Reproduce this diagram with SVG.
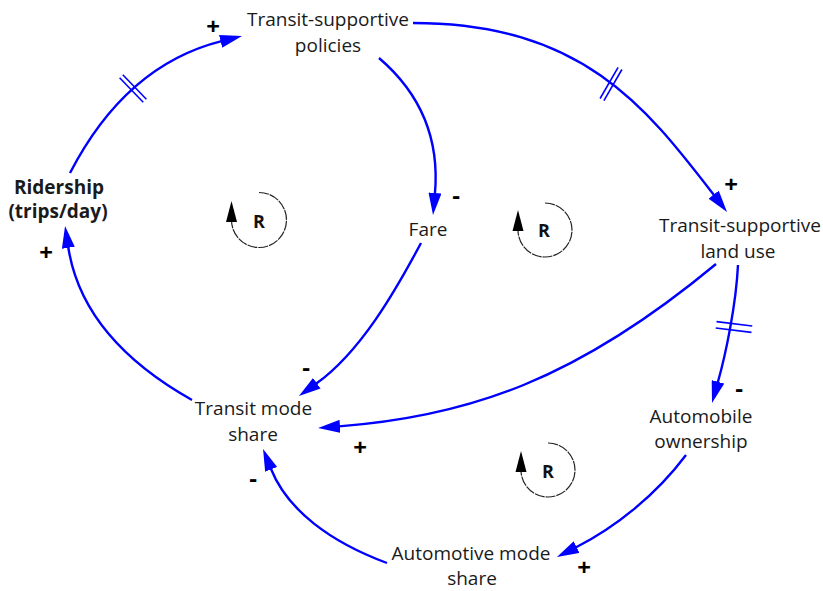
<svg xmlns="http://www.w3.org/2000/svg" width="823" height="591" viewBox="0 0 823 591">
  <style>
    .lbl { font-family: "Open Sans", "Noto Sans", "Liberation Sans", sans-serif; font-size: 19px; fill: #1a1a1a; text-anchor: middle; }
    .bold { font-weight: bold; }
    .sign { font-family: "Open Sans", "Liberation Sans", sans-serif; font-size: 24px; font-weight: bold; fill: #000; text-anchor: middle; }
    .link { fill: none; stroke: #0000ff; stroke-width: 2.4; marker-end: url(#head); }
    .delay line { stroke: #0000ff; stroke-width: 1.6; }
    .loop-arc { fill: none; stroke: #222; stroke-width: 1.2; stroke-dasharray: 10 1; }
    .loop-head { fill: #000; }
    .loop-r { font-family: "Open Sans", "Liberation Sans", sans-serif; font-size: 18px; font-weight: bold; fill: #111; text-anchor: middle; }
  </style>
  <defs>
    <marker id="head" markerUnits="userSpaceOnUse" viewBox="0 0 22 13" markerWidth="22" markerHeight="13" refX="1" refY="6.5" orient="auto">
      <path d="M0,0 L22,6.5 L0,13 Z" fill="#0000ff"/>
    </marker>
  </defs>

  <rect width="823" height="591" fill="#fff"/>

  <!-- causal links -->
  <g id="connectors">
    <path class="link" d="M70,173 C104.5,106.3 153.7,58.1 221.6,41.1"/>
    <path class="link" d="M413,23 C583,23 647.1,108.5 714.2,195.4"/>
    <path class="link" d="M379,58 C417,90.5 440.3,134 434.9,194"/>
    <path class="link" d="M421,243 C395.2,291.4 360.6,351.9 316,383.8"/>
    <path class="link" d="M716,264 C577.4,379.2 468.6,416.7 339,426.4"/>
    <path class="link" d="M738,265 C736,305 725.8,354 717.7,382.8"/>
    <path class="link" d="M686,455 C656,495 615.7,527.2 575.7,547.5"/>
    <path class="link" d="M387,563 C330.6,542 287.4,510.4 270.8,468.5"/>
    <path class="link" d="M192,400 C131.1,365.7 78.7,316.1 68.2,246.8"/>

    <!-- delay marks -->
    <g class="delay" transform="translate(133,88.5) rotate(-44)">
      <line x1="-2.2" y1="-17" x2="-2.2" y2="17"/>
      <line x1="2.2" y1="-17" x2="2.2" y2="17"/>
    </g>
    <g class="delay" transform="translate(611,84) rotate(30)">
      <line x1="-2.2" y1="-18" x2="-2.2" y2="18"/>
      <line x1="2.2" y1="-18" x2="2.2" y2="18"/>
    </g>
    <g class="delay" transform="translate(734,327) rotate(97)">
      <line x1="-3.2" y1="-18" x2="-3.2" y2="18"/>
      <line x1="3.2" y1="-18" x2="3.2" y2="18"/>
    </g>

    <!-- polarities -->
    <text class="sign" x="213" y="34.5">+</text>
    <text class="sign" x="46" y="260.5">+</text>
    <text class="sign" x="456" y="203.5">-</text>
    <text class="sign" x="731" y="192.5">+</text>
    <text class="sign" x="306" y="375.5">-</text>
    <text class="sign" x="360" y="455.5">+</text>
    <text class="sign" x="253" y="486.5">-</text>
    <text class="sign" x="739" y="396.5">-</text>
    <text class="sign" x="584" y="575.5">+</text>
  </g>

  <!-- variables -->
  <g id="policies">
    <text class="lbl" x="328" y="26">Transit-supportive</text>
    <text class="lbl" x="328" y="52">policies</text>
  </g>
  <g id="ridership">
    <text class="lbl bold" x="59" y="194">Ridership</text>
    <text class="lbl bold" x="58" y="218">(trips/day)</text>
  </g>
  <g id="fare">
    <text class="lbl" x="428" y="236">Fare</text>
  </g>
  <g id="land-use">
    <text class="lbl" x="740" y="232">Transit-supportive</text>
    <text class="lbl" x="738" y="258">land use</text>
  </g>
  <g id="transit-share">
    <text class="lbl" x="253.5" y="415">Transit mode</text>
    <text class="lbl" x="253" y="441">share</text>
  </g>
  <g id="auto-ownership">
    <text class="lbl" x="701" y="423">Automobile</text>
    <text class="lbl" x="701" y="448">ownership</text>
  </g>
  <g id="auto-share">
    <text class="lbl" x="471" y="560">Automotive mode</text>
    <text class="lbl" x="472" y="585">share</text>
  </g>

  <!-- reinforcing loop markers -->
  <g id="loop-1">
    <path class="loop-arc" d="M259,192.5 A27.5,27.5 0 1 1 231.5,220"/>
    <path class="loop-head" d="M231.5,201 L237,222 L226,222 Z"/>
    <text class="loop-r" x="259" y="228">R</text>
  </g>
  <g id="loop-2">
    <path class="loop-arc" d="M545,203 A27,27 0 1 1 518,230"/>
    <path class="loop-head" d="M518,210 L523.5,231 L512.5,231 Z"/>
    <text class="loop-r" x="544" y="237">R</text>
  </g>
  <g id="loop-3">
    <path class="loop-arc" d="M548,443 A27,27 0 1 1 521,470"/>
    <path class="loop-head" d="M521,451 L526.5,472 L515.5,472 Z"/>
    <text class="loop-r" x="548" y="478">R</text>
  </g>
</svg>
